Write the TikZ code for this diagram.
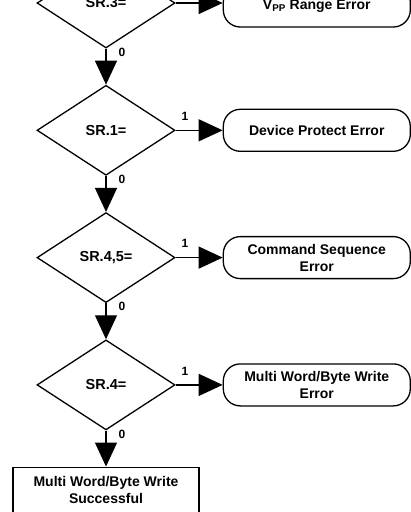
\documentclass[tikz,border=0pt]{standalone}
\usepackage{fontspec}
\setmainfont{Liberation Sans}
\usepackage{tikz}
\usetikzlibrary{arrows.meta,positioning,shapes.geometric}

\begin{document}
\begin{tikzpicture}[x=1pt,y=1pt,
  decision/.style={draw, diamond, line width=1.3pt, minimum width=138pt,
    minimum height=90pt, inner sep=0pt,
    font=\bfseries\fontsize{14.5}{17}\selectfont},
  errbox/.style={draw, line width=1.3pt, rounded corners=17pt,
    minimum width=187pt, minimum height=42pt, align=center,
    font=\bfseries\fontsize{14}{17}\selectfont},
  endbox/.style={draw, line width=1.1pt, minimum width=186pt,
    minimum height=45pt, align=center,
    font=\bfseries\fontsize{14}{17}\selectfont},
  flow/.style={line width=1.3pt, -{Triangle[length=24pt,width=22pt]}},
  bitlbl/.style={font=\bfseries\fontsize{12}{14}\selectfont, inner sep=1pt}]
\useasboundingbox (0,0) rectangle (411,-512);

% status register checks
\node [decision] (sr3) at (106,-3) {SR.3=};
\node [decision, below=36pt of sr3] (sr1) {SR.1=};
\node [decision, below=36pt of sr1] (sr45) {SR.4,5=};
\node [decision, below=36pt of sr45] (sr4) {SR.4=};
\node [endbox, below=36pt of sr4] (done) {Multi Word/Byte Write\\Successful};

% error boxes
\node [errbox, right=47pt of sr3, yshift=-3pt] (vpp) {V\textsubscript{PP} Range Error};
\node [errbox, right=47pt of sr1] (protect) {Device Protect Error};
\node [errbox, right=47pt of sr45] (cmdseq) {Command Sequence\\Error};
\node [errbox, right=47pt of sr4] (mwerr) {Multi Word/Byte Write\\Error};

% bit = 1
\draw [flow] (sr3.east) -- (vpp.west |- sr3.east);
\draw [flow] (sr1.east) -- node [bitlbl, pos=0.2, above=8pt] {1} (protect.west);
\draw [flow] (sr45.east) -- node [bitlbl, pos=0.2, above=8pt] {1} (cmdseq.west);
\draw [flow] (sr4.east) -- node [bitlbl, pos=0.2, above=8pt] {1} (mwerr.west);

% bit = 0
\draw [flow] (sr3.south) -- node [bitlbl, pos=0.1, right=11pt] {0} (sr1.north);
\draw [flow] (sr1.south) -- node [bitlbl, pos=0.1, right=11pt] {0} (sr45.north);
\draw [flow] (sr45.south) -- node [bitlbl, pos=0.1, right=11pt] {0} (sr4.north);
\draw [flow] (sr4.south) -- node [bitlbl, pos=0.1, right=11pt] {0} (done.north);
\end{tikzpicture}
\end{document}
